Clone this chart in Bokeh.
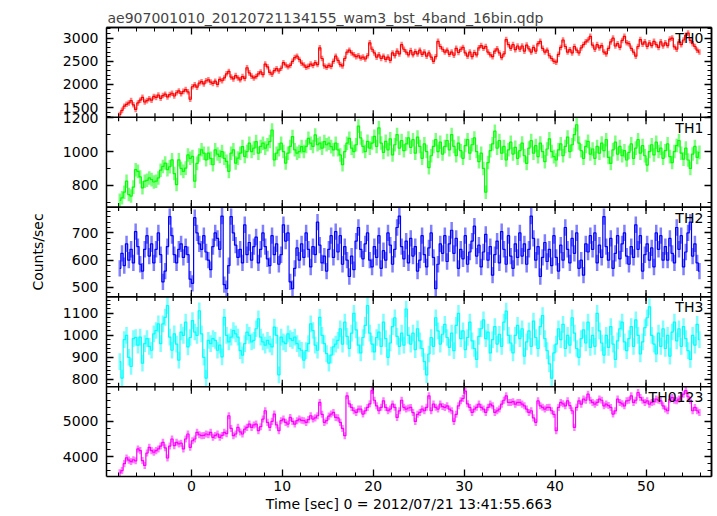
import numpy as np
from bokeh.plotting import figure
from bokeh.models import Range1d, LinearAxis, FixedTicker, Label, Span, ColumnDataSource
from bokeh.embed import file_html
from bokeh.resources import INLINE

TITLE = "ae907001010_20120721134155_wam3_bst_4band_16bin.qdp"
X_LABEL = "Time [sec] 0 = 2012/07/21 13:41:55.663"
Y_LABEL = "Counts/sec"
BAND_NAMES = ["TH0", "TH1", "TH2", "TH3", "TH0123"]
BAND_COLORS = ["#ff0000", "#00ff00", "#0000ff", "#00ffff", "#ff00ff"]
BIN_START = -8.0
BIN_WIDTH = 0.25

TH0 = [
    1350, 1440, 1530, 1570, 1600, 1650, 1560, 1460, 1600, 1660, 1720, 1620, 1650, 1690, 1660, 1740,
    1720, 1770, 1700, 1760, 1790, 1730, 1780, 1810, 1750, 1820, 1860, 1800, 1850, 1890, 1840, 1680,
    1950, 1990, 1940, 2030, 2060, 2010, 2080, 2100, 2050, 2020, 2070, 2000, 2110, 2080, 2140, 2230,
    2280, 2160, 2120, 2190, 2140, 2100, 2170, 2130, 2360, 2250, 2180, 2140, 2170, 2230, 2270, 2210,
    2440, 2380, 2260, 2220, 2300, 2340, 2290, 2350, 2470, 2420, 2380, 2410, 2500, 2580, 2610, 2540,
    2460, 2420, 2370, 2390, 2440, 2410, 2470, 2430, 2790, 2560, 2400, 2370, 2410, 2390, 2500, 2610,
    2520, 2430, 2400, 2560, 2700, 2740, 2680, 2640, 2600, 2620, 2570, 2590, 2550, 2620, 2900, 2760,
    2680, 2590, 2640, 2560, 2610, 2540, 2590, 2520, 2680, 2620, 2720, 2660, 2860, 2760, 2700, 2640,
    2730, 2640, 2710, 2660, 2740, 2650, 2700, 2610, 2680, 2590, 2500, 2600, 2930, 2820, 2760, 2700,
    2740, 2650, 2700, 2630, 2780, 2690, 2760, 2800, 2680, 2610, 2700, 2600, 2690, 2640, 2790, 2840,
    2780, 2820, 2700, 2640, 2600, 2720, 2770, 2680, 2580, 2660, 2970, 2860, 2780, 2860, 2750, 2830,
    2760, 2830, 2720, 2850, 2770, 2700, 2800, 2720, 2880, 2930, 2780, 2700, 2740, 2620, 2560, 2500,
    2480, 2650, 2800, 2960, 2820, 2700, 2750, 2680, 2820, 2740, 2680, 2790, 2860, 2920, 2960, 3040,
    2850, 2760, 2860, 2790, 2840, 2700, 2660, 2780, 2920, 3000, 2830, 2880, 2800, 2950, 3040, 2900,
    2880, 2780, 2700, 2610, 2820, 2970, 2870, 2920, 2820, 2900, 2840, 2930, 2860, 2800, 2920, 2830,
    2900, 2840, 2980, 3000, 2810, 2760, 2920, 2860, 2960, 3060, 3110, 2950, 2880, 2820, 2740, 2700,
]

TH1 = [
    712, 727, 760, 825, 746, 737, 790, 893, 883, 850, 786, 825, 830, 844, 834, 820,
    825, 844, 890, 912, 932, 893, 910, 951, 870, 805, 951, 900, 883, 902, 980, 960,
    971, 825, 930, 980, 1010, 990, 951, 990, 960, 922, 1010, 985, 971, 1000, 960, 942,
    883, 990, 1010, 932, 961, 990, 1029, 971, 1000, 1049, 1000, 1020, 1059, 990, 1030, 1049,
    1020, 1040, 1059, 1127, 951, 990, 1010, 1049, 1000, 932, 990, 1030, 1088, 1010, 990, 1000,
    1029, 1000, 1030, 1078, 1049, 1030, 1098, 1040, 1049, 1020, 1059, 1040, 1049, 1029, 1010, 1049,
    1010, 980, 922, 1000, 1049, 1078, 1020, 1000, 1040, 1150, 1080, 1030, 1000, 1060, 1020, 1050,
    1090, 1030, 1140, 1050, 995, 1060, 1010, 1075, 980, 1040, 1100, 1020, 1065, 1005, 1045, 1080,
    1025, 1070, 990, 1085, 1030, 960, 1045, 1000, 905, 975, 1030, 1070, 1000, 1055, 985, 1030,
    1065, 1010, 1100, 1030, 975, 1050, 1005, 960, 1035, 1070, 990, 1040, 1080, 1000, 940, 990,
    900, 760, 935, 1005, 1045, 1120, 1020, 1065, 990, 1030, 950, 1010, 1055, 985, 1025, 960,
    1005, 1050, 975, 930, 1020, 1065, 990, 1035, 970, 1050, 1000, 940, 1015, 1075, 1000, 970,
    950, 1010, 1045, 975, 1030, 1085, 1000, 1040, 1100, 1158, 1050, 1005, 960, 1030, 1060, 985,
    1015, 960, 1030, 990, 1050, 1005, 1070, 965, 930, 1010, 1055, 985, 1030, 975, 1005, 950,
    995, 1045, 960, 1020, 1070, 990, 1035, 975, 920, 1000, 1040, 980, 1055, 1000, 1020, 960,
    1005, 1045, 970, 935, 1000, 1035, 1065, 990, 955, 1020, 950, 900, 985, 1030, 965, 995,
]

TH2 = [
    570, 625, 580, 660, 600, 640, 590, 705, 650, 585, 560, 640, 690, 615, 660, 590,
    640, 700, 620, 520, 560, 650, 760, 690, 620, 590, 640, 660, 610, 650, 620, 530,
    515, 756, 700, 660, 640, 690, 630, 600, 565, 650, 700, 680, 640, 762, 510, 495,
    580, 760, 700, 655, 610, 640, 590, 730, 620, 665, 600, 650, 685, 590, 640, 700,
    650, 605, 580, 690, 620, 660, 585, 620, 730, 670, 700, 520, 495, 570, 645, 600,
    660, 610, 700, 640, 575, 650, 620, 740, 655, 590, 615, 560, 640, 690, 610, 705,
    630, 690, 585, 650, 600, 540, 615, 565, 670, 720, 640, 605, 660, 700, 600, 575,
    650, 610, 690, 570, 635, 600, 700, 655, 585, 640, 720, 762, 650, 605, 670, 590,
    680, 615, 650, 560, 600, 690, 620, 575, 645, 700, 610, 495, 585, 660, 625, 690,
    595, 660, 710, 625, 680, 570, 640, 605, 690, 585, 630, 670, 725, 615, 655, 575,
    630, 695, 600, 650, 545, 620, 670, 590, 705, 640, 585, 690, 615, 570, 660, 610,
    700, 615, 660, 585, 640, 762, 680, 600, 650, 540, 610, 665, 595, 640, 580, 690,
    610, 560, 655, 600, 720, 640, 590, 680, 625, 700, 570, 600, 545, 660, 630, 690,
    640, 700, 590, 655, 610, 760, 650, 600, 680, 570, 625, 690, 605, 660, 700, 615,
    585, 650, 610, 730, 640, 690, 560, 620, 660, 600, 645, 575, 700, 640, 690, 600,
    650, 600, 680, 625, 590, 720, 640, 690, 575, 630, 700, 740, 615, 660, 590, 560,
]

TH3 = [
    880, 805, 980, 1000, 900, 858, 985, 990, 955, 992, 873, 962, 985, 950, 932, 1007,
    1022, 1052, 962, 1052, 1082, 1135, 992, 932, 1007, 960, 887, 1015, 1000, 1060, 947, 990,
    1067, 1015, 1000, 1112, 1007, 900, 805, 977, 962, 985, 977, 932, 955, 902, 1082, 1000,
    970, 992, 1022, 1007, 992, 930, 910, 962, 1015, 1000, 970, 977, 1030, 1075, 992, 970,
    955, 977, 960, 947, 1037, 1000, 820, 992, 970, 962, 1007, 985, 977, 992, 962, 940,
    932, 887, 930, 962, 1052, 1022, 955, 932, 1082, 1000, 962, 917, 873, 910, 947, 960,
    977, 1030, 960, 1060, 995, 940, 1010, 1100, 1025, 955, 920, 990, 1045, 1135, 1010, 960,
    925, 990, 1015, 950, 1060, 985, 900, 965, 1040, 1080, 995, 950, 1010, 955, 1120, 1000,
    960, 1010, 935, 1030, 975, 940, 880, 820, 915, 990, 950, 1080, 1020, 960, 1005, 1050,
    990, 945, 1010, 930, 1045, 1100, 985, 1020, 935, 990, 1060, 975, 940, 890, 995, 1030,
    1070, 985, 1015, 920, 980, 1040, 960, 1005, 950, 1060, 1110, 1000, 965, 920, 1000, 1045,
    985, 1030, 905, 970, 1020, 950, 1065, 990, 940, 1040, 1090, 985, 930, 870, 805, 920,
    960, 1030, 980, 1050, 940, 1000, 955, 1080, 1010, 940, 900, 985, 1025, 965, 1060, 945,
    1000, 950, 1100, 1020, 965, 910, 1000, 945, 1040, 960, 890, 975, 1030, 1060, 970, 930,
    985, 1040, 950, 1070, 1000, 915, 970, 1035, 1080, 1130, 1000, 960, 915, 1010, 950, 1030,
    940, 1000, 905, 1015, 1060, 975, 1030, 950, 1040, 985, 930, 890, 1000, 955, 1050, 980,
]

TH0123 = [
    3540, 3604, 3800, 3963, 3900, 3860, 3910, 3880, 4217, 4170, 3887, 3750, 4100, 4264, 4170, 4123,
    4170, 4217, 4300, 4406, 4250, 3960, 4300, 4500, 4312, 4406, 4359, 4380, 4217, 4500, 4642, 4264,
    4450, 4500, 4689, 4620, 4594, 4600, 4642, 4620, 4689, 4547, 4600, 4642, 4547, 4600, 4689, 4650,
    5160, 4800, 4594, 4642, 4830, 4700, 4642, 4780, 4830, 4925, 4830, 4900, 4925, 4736, 4850, 5066,
    5302, 4972, 4830, 5000, 5207, 4900, 4736, 5019, 5066, 4972, 4925, 5113, 5000, 4925, 5019, 5066,
    5030, 5019, 4972, 5050, 5160, 5066, 5100, 5160, 5538, 5200, 4972, 5019, 5150, 5207, 5255, 5113,
    5100, 4972, 4800, 4594, 5726, 5500, 5396, 5302, 5255, 5350, 5349, 5207, 5300, 5396, 5500, 5875,
    5600, 5443, 5302, 5400, 5585, 5396, 5302, 5350, 5490, 5400, 5113, 5300, 5600, 5400, 5349, 5380,
    5396, 5250, 5000, 5200, 5255, 5349, 5302, 5400, 5726, 5302, 5490, 5400, 5349, 5490, 5420, 5396,
    5443, 5350, 5302, 5000, 5200, 5443, 5585, 5650, 5860, 5500, 5396, 5255, 5349, 5400, 5490, 5400,
    5349, 5255, 5400, 5490, 5443, 5255, 5300, 5349, 5490, 5600, 5726, 5538, 5538, 5560, 5490, 5538,
    5538, 5490, 5443, 5350, 5255, 5302, 5100, 4972, 5585, 5443, 5400, 5349, 5396, 5400, 5302, 5200,
    4736, 5396, 5538, 5500, 5443, 5585, 5450, 5302, 4830, 5400, 5585, 5490, 5632, 5600, 5773, 5600,
    5538, 5490, 5538, 5632, 5600, 5443, 5490, 5450, 5396, 5207, 5300, 5632, 5538, 5500, 5443, 5585,
    5600, 5726, 5538, 5600, 5820, 5679, 5600, 5538, 5585, 5490, 5538, 5560, 5632, 5600, 5585, 5443,
    5350, 5302, 5632, 5679, 5600, 5585, 5632, 5700, 5773, 5875, 5700, 5600, 5302, 5396, 5302, 5250,
]

BAND_ERRORS = [60, 40, 30, 38, 100]
X_TICKS = [0, 10, 20, 30, 40, 50]
Y_TICKS = [
    [1500, 2000, 2500, 3000],
    [800, 1000, 1200],
    [500, 600, 700],
    [800, 900, 1000, 1100],
    [4000, 5000],
]
SERIES = [TH0, TH1, TH2, TH3, TH0123]

# ---- styling / layout ----
FONT = "DejaVu Sans"
FS = "14px"
Y_RANGES = [(1290, 3230), (672, 1202), (465, 795), (766, 1175), (3435, 5985)]
MINOR_STEP = [100, 100, 20, 20, 200]
NP = 5
FRAME_W, FRAME_H = 605, 449
BAND_PX = FRAME_H / NP
X_MINOR = [float(v) for v in np.arange(-8, 58, 2)]


def band_pos(k, v):
    lo, hi = Y_RANGES[k]
    return (NP - 1 - k) + (v - lo) / (hi - lo)


left_major, left_minor, overrides = [], [], {}
for k in range(NP):
    lo, hi = Y_RANGES[k]
    for v in Y_TICKS[k]:
        pos = float(band_pos(k, v))
        left_major.append(pos)
        overrides[pos] = str(v)
    step = MINOR_STEP[k]
    v = (lo // step + 1) * step
    while v < hi:
        left_minor.append(float(band_pos(k, v)))
        v += step

p = figure(
    x_range=Range1d(-9.33, 57.2), y_range=Range1d(0, NP),
    frame_width=FRAME_W, frame_height=FRAME_H,
    output_backend="svg", toolbar_location=None, tools="",
    x_axis_location=None, y_axis_location=None,
    min_border_left=106, min_border_right=5, min_border_top=27, min_border_bottom=0,
    title=TITLE,
)
p.outline_line_color = None
p.grid.visible = False
p.background_fill_color = "white"
p.border_fill_color = "white"
p.title.text_font = FONT
p.title.text_font_size = FS
p.title.text_font_style = "normal"
p.title.align = "left"
p.title.standoff = 4
p.title.offset = 1


def base_axis(ax):
    ax.axis_line_color = "black"
    ax.axis_line_width = 1.5
    ax.major_tick_in = 7
    ax.major_tick_out = 0
    ax.minor_tick_in = 4
    ax.minor_tick_out = 0
    ax.major_tick_line_color = "black"
    ax.major_tick_line_width = 1.3
    ax.minor_tick_line_color = "black"
    ax.minor_tick_line_width = 1
    ax.major_label_text_font = FONT
    ax.major_label_text_font_size = FS
    ax.major_label_text_color = "black"
    ax.axis_label_text_font = FONT
    ax.axis_label_text_font_size = FS
    ax.axis_label_text_font_style = "normal"
    ax.axis_label_text_color = "black"
    return ax


left = base_axis(LinearAxis(ticker=FixedTicker(ticks=left_major, minor_ticks=left_minor)))
left.major_label_overrides = overrides
left.major_label_standoff = 8
left.axis_label = Y_LABEL
left.axis_label_standoff = 14
p.add_layout(left, "left")

bottom = base_axis(LinearAxis(ticker=FixedTicker(ticks=X_TICKS, minor_ticks=X_MINOR)))
bottom.major_label_standoff = 4
bottom.axis_label = X_LABEL
bottom.axis_label_standoff = 2
p.add_layout(bottom, "below")

# unlabeled tick-only axes (right and top): short and long ticks
for side, short_t, long_t in [("right", left_minor, left_major), ("above", X_MINOR, X_TICKS)]:
    for ticks, length in [(short_t, 4), (long_t, 7)]:
        ax = base_axis(LinearAxis(ticker=FixedTicker(ticks=[], minor_ticks=list(ticks))))
        ax.minor_tick_in = length
        ax.minor_tick_line_width = 1.3 if length == 7 else 1
        ax.major_label_standoff = 0
        p.add_layout(ax, side)

# panel separators and their inward ticks
for b in range(1, NP):
    p.add_layout(Span(location=b, dimension="width", line_color="black", line_width=1.6))
sx, sy0, sy1 = [], [], []
for b in range(1, NP):
    for ticks, length in [(X_MINOR, 4), (X_TICKS, 7)]:
        for x in ticks:
            sx.append(x)
            sy0.append(b - length / BAND_PX)
            sy1.append(b + length / BAND_PX)
p.segment(x0=sx, y0=sy0, x1=sx, y1=sy1, line_color="black", line_width=1.2)

# data panels
for k in range(NP):
    lo, hi = Y_RANGES[k]
    span = hi - lo
    name = f"r{k}"
    p.extra_y_ranges[name] = Range1d(lo - (NP - 1 - k) * span, hi + k * span)
    vals = np.array(SERIES[k], dtype=float)
    t = BIN_START + BIN_WIDTH * (np.arange(len(vals)) + 0.5)
    err = BAND_ERRORS[k]
    src = ColumnDataSource(dict(t=t, y=vals, lo=vals - err, hi=vals + err))
    color = BAND_COLORS[k]
    p.segment(x0="t", y0="lo", x1="t", y1="hi", source=src, y_range_name=name,
              line_color=color, line_alpha=0.5, line_width=2.5)
    p.step(x="t", y="y", source=src, mode="center", y_range_name=name,
           line_color=color, line_width=1.2)
    p.add_layout(Label(
        x=56.3, y=(NP - k) - 10.5 / BAND_PX, text=BAND_NAMES[k],
        text_align="right", text_baseline="middle",
        text_font=FONT, text_font_size=FS, text_color="black",
    ))

open("out.html", "w").write(file_html(p, INLINE))
